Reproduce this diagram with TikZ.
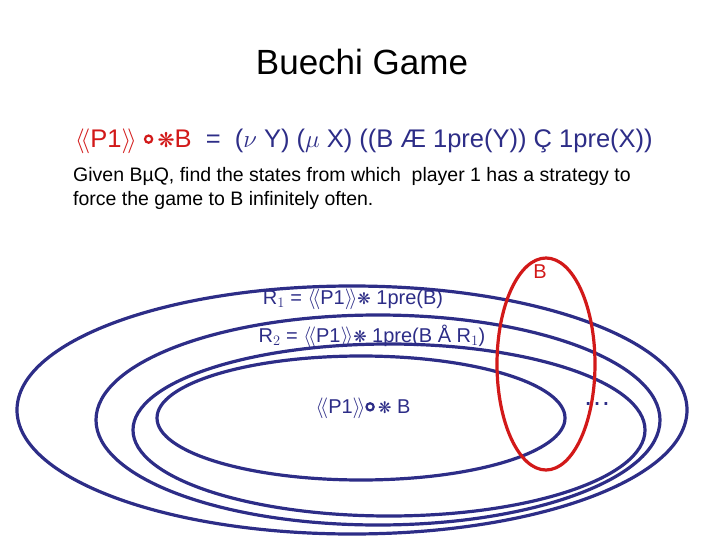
\documentclass[tikz,border=0pt]{standalone}
\usepackage{fontspec}
\setmainfont{Liberation Sans}
\newfontfamily\djvfont{DejaVu Sans}
\definecolor{navy}{RGB}{45,45,135}
\definecolor{rd}{RGB}{210,25,25}
\newcommand{\myring}[1]{\tikz[baseline=-0.6ex]\draw[#1,line width=2.2pt] (0,0) circle (3.6pt);}
\newcommand{\flk}{{\djvfont\scalebox{0.8}{❋}}}
\begin{document}
\begin{tikzpicture}[x=1pt,y=-1pt,
  ring/.style={draw=navy,line width=3.2pt},
  lbl/.style={text=navy,font=\fontsize{20}{24}\selectfont,inner sep=0pt}]
\useasboundingbox (0,0) rectangle (720,540);
\node (title) at (362,62) {\fontsize{35}{40}\selectfont Buechi Game};
\node[anchor=west,inner sep=0pt] (formula) at (75,141) {\fontsize{25.5}{30}\selectfont
  \textcolor{rd}{$\langle\!\langle$P1$\rangle\!\rangle$ \myring{rd}\,\flk B}\textcolor{navy}{\ \ =\ \ ($\nu$ Y) ($\mu$ X) ((B Æ 1pre(Y)) Ç 1pre(X))}};
\node[anchor=north west,inner sep=0pt,align=left,font=\fontsize{19.5}{24.5}\selectfont] (desc) at (73,167) {Given BµQ, find the states from which\ \ player 1 has a strategy to\\force the game to B infinitely often.};
\draw[ring] (352,410) ellipse [x radius=335,y radius=124] coordinate (e1);
\draw[ring] (378,420) ellipse [x radius=282,y radius=105] coordinate (e2);
\draw[ring] (389,430) ellipse [x radius=256,y radius=86] coordinate (e3);
\draw[ring] (361,418) ellipse [x radius=204,y radius=62] coordinate (e4);
\draw[draw=rd,line width=3.2pt] (546,364) ellipse [x radius=49,y radius=106] coordinate (eb);
\node[lbl] (r1) at (353,299) {R$_1$ = $\langle\!\langle$P1$\rangle\!\rangle$\flk\ 1pre(B)};
\node[lbl] (r2) at (372,336) {R$_2$ = $\langle\!\langle$P1$\rangle\!\rangle$\flk\ 1pre(B Å R$_1$)};
\node[lbl] (inner) at (363,408) {$\langle\!\langle$P1$\rangle\!\rangle$\myring{navy}\,\flk\ B};
\node[text=rd,font=\fontsize{20}{24}\selectfont] (b) at (540,272) {B};
\node[text=navy,font=\fontsize{28}{30}\selectfont] (dots) at (597,404) {\dots};
\end{tikzpicture}
\end{document}
